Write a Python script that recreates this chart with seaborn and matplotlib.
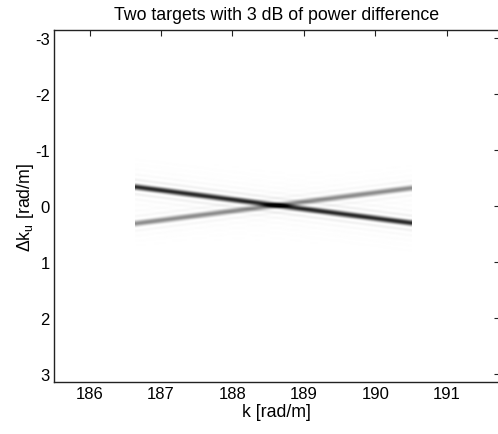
import numpy as np
import matplotlib
matplotlib.use("Agg")
import matplotlib.pyplot as plt
from matplotlib.colors import PowerNorm
import seaborn as sns

# ---- data ----
title = "Two targets with 3 dB of power difference"
k_span = [186.64, 190.51]            # k extent of the image [rad/m]
target_dku_start = [-0.33, 0.32]     # Δk_u of each target at the first k
target_dku_end = [0.31, -0.31]       # Δk_u of each target at the last k
target_power_db = [0.0, -3.0]        # relative power of the targets
psf_null = 0.09                      # first null of the Δk_u response [rad/m]
x_ticks = [186, 187, 188, 189, 190, 191]
y_ticks = [-3, -2, -1, 0, 1, 2, 3]
x_lim = [185.5, 191.74]
y_lim = [np.pi, -np.pi]

sns.set_style("white")
plt.rcParams["font.family"] = ["Liberation Sans", "DejaVu Sans"]
plt.rcParams["mathtext.fontset"] = "custom"
plt.rcParams["mathtext.rm"] = "Liberation Sans"
plt.rcParams["mathtext.it"] = "Liberation Sans"
plt.rcParams["text.color"] = "black"
plt.rcParams["axes.labelcolor"] = "black"

# ---- image of the two point responses (power) ----
k = np.linspace(k_span[0], k_span[1], 110)
dku = np.linspace(-np.pi, np.pi, 420)
K, D = np.meshgrid(k, dku)
t = (K - k_span[0]) / (k_span[1] - k_span[0])
img = np.zeros_like(K)
for s, e, p in zip(target_dku_start, target_dku_end, target_power_db):
    centre = s + (e - s) * t
    img += 10 ** (p / 10.0) * np.sinc((D - centre) / psf_null) ** 2

fig = plt.figure(figsize=(4.98, 4.35), dpi=100)
ax = fig.add_axes([54 / 498, (435 - 383.3) / 435, (499.5 - 54) / 498, (383.3 - 30.7) / 435])
ax.imshow(img, cmap="gray_r", norm=PowerNorm(gamma=0.92, vmin=0, vmax=1.2), aspect="auto",
          extent=[k_span[0], k_span[1], dku[-1], dku[0]], interpolation="bilinear")
ax.set_xlim(x_lim)
ax.set_ylim(y_lim)
ax.set_xticks(x_ticks)
ax.set_yticks(y_ticks)
ax.set_xticklabels([str(v) for v in x_ticks])
ax.set_yticklabels([str(v) for v in y_ticks])
ax.tick_params(direction="in", length=4, width=0.8, colors="#222222",
               labelcolor="black", labelsize=12, top=True, right=True, pad=3)
for sp in ax.spines.values():
    sp.set_visible(True)
    sp.set_color("#222222")
    sp.set_linewidth(1.0)

ax.set_title(title, fontsize=12.8, pad=8, color="black")
ax.set_xlabel("k [rad/m]", fontsize=12.8, labelpad=1)
ax.set_ylabel(r"$\Delta$k$_\mathregular{u}$ [rad/m]", fontsize=12.8, labelpad=-1)

fig.savefig("out.png", dpi=100)
